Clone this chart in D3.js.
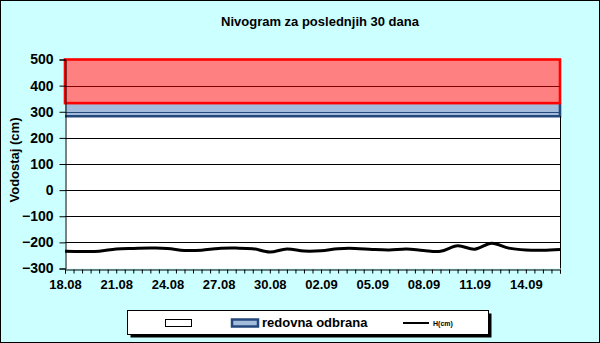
<!DOCTYPE html>
<html>
<head>
<meta charset="utf-8">
<script src="https://cdn.jsdelivr.net/npm/d3@7"></script>
<style>
    html, body { margin: 0; padding: 0; background: #fff; }
    svg text { font-family: Arial, 'Liberation Sans', sans-serif; font-weight: bold; }
</style>
</head>
<body>
<div id="chart"></div>
<script>
'use strict';

// first day of the series and the daily water levels in cm
let startDate = new Date(2000, 7, 18);
let levels = [-234, -235, -234, -225, -223, -222, -223, -231, -230, -223,
    -222, -224, -237, -225, -233, -232, -224, -223, -227, -229,
    -225, -231, -234, -213, -226, -203, -222, -229, -230, -227];

// flood defence bands (cm)
let redBand = [333, 500];
let blueBand = [283, 333];

let yTicks = [500, 400, 300, 200, 100, 0, -100, -200, -300];
let legendLabels = ['', 'redovna odbrana', 'H(cm)'];

let width = 600,
    height = 343;
let margin = {top: 59.5, right: 40, bottom: 74.5, left: 65};

let data = levels.map(function(v, i) {
    return {date: d3.timeDay.offset(startDate, i), value: v};
});

let svg = d3.select('#chart')
    .append('svg')
    .attr('width', width)
    .attr('height', height);

// background of the whole chart
svg.append('rect')
    .attr('x', 0.5)
    .attr('y', 0.5)
    .attr('width', width - 1)
    .attr('height', height - 1)
    .attr('fill', '#ccffff')
    .attr('stroke', '#000');

let x = d3.scaleTime()
    .domain([startDate, d3.timeDay.offset(startDate, levels.length - 1)])
    .range([margin.left, width - margin.right]);

let y = d3.scaleLinear()
    .domain([-300, 500])
    .range([height - margin.bottom, margin.top]);

// plot area
svg.append('rect')
    .attr('x', x.range()[0])
    .attr('y', y(500))
    .attr('width', x.range()[1] - x.range()[0])
    .attr('height', y(-300) - y(500))
    .attr('fill', '#fff');

// blue band - regular defence
svg.append('rect')
    .attr('x', x.range()[0])
    .attr('y', y(blueBand[1]))
    .attr('width', x.range()[1] - x.range()[0])
    .attr('height', y(blueBand[0]) - y(blueBand[1]))
    .attr('fill', '#a4bcdc');
svg.append('path')
    .attr('fill', 'none')
    .attr('stroke', '#24487c')
    .attr('stroke-width', 2.6)
    .attr('d', 'M' + x.range()[0] + ',' + y(blueBand[0]) +
        'H' + x.range()[1] + 'V' + y(blueBand[1]));

// red band
svg.append('rect')
    .attr('x', x.range()[0])
    .attr('y', y(redBand[1]))
    .attr('width', x.range()[1] - x.range()[0])
    .attr('height', y(redBand[0]) - y(redBand[1]))
    .attr('fill', '#ff8080')
    .attr('stroke', '#ff0000')
    .attr('stroke-width', 2.6);

// horizontal grid, darker where it crosses a band
svg.append('g')
    .selectAll('line')
    .data(yTicks.filter(function(d) {
        return d > -300 && d < 500;
    }))
    .enter().append('line')
    .attr('x1', x.range()[0])
    .attr('x2', x.range()[1])
    .attr('y1', function(d) {
        return Math.round(y(d)) + 0.5;
    })
    .attr('y2', function(d) {
        return Math.round(y(d)) + 0.5;
    })
    .attr('stroke', function(d) {
        if (d > redBand[0]) return '#800000';
        if (d > blueBand[0]) return '#24487c';
        return '#000';
    });

// right border of the plot
svg.append('line')
    .attr('x1', x.range()[1] + 0.5)
    .attr('x2', x.range()[1] + 0.5)
    .attr('y1', y(blueBand[0]))
    .attr('y2', y(-300))
    .attr('stroke', '#000');

// water level line
let line = d3.line()
    .x(function(d) {
        return x(d.date);
    })
    .y(function(d) {
        return y(d.value);
    })
    .curve(d3.curveCatmullRom.alpha(0.5));

svg.append('path')
    .datum(data)
    .attr('fill', 'none')
    .attr('stroke', '#000')
    .attr('stroke-width', 3)
    .attr('d', line);

// y axis
let yAxis = svg.append('g')
    .attr('transform', 'translate(' + (margin.left + 0.5) + ',0)')
    .call(d3.axisLeft(y).tickValues(yTicks).tickSize(6).tickPadding(6));
yAxis.select('.domain').attr('stroke', '#000');
yAxis.selectAll('.tick line').attr('stroke', '#000');
yAxis.selectAll('text')
    .attr('fill', '#000')
    .style('font-size', '14px');

// x axis: tick every half day, label every third day
let xAxis = svg.append('g')
    .attr('transform', 'translate(0,' + (Math.round(y(-300)) + 0.5) + ')')
    .call(d3.axisBottom(x)
        .ticks(d3.timeHour.every(12))
        .tickSize(4)
        .tickPadding(6)
        .tickFormat(function(d) {
            let days = d3.timeDay.count(startDate, d);
            if (d.getHours() === 0 && days % 3 === 0) {
                return d3.timeFormat('%d.%m')(d);
            }
            return '';
        }));
xAxis.select('.domain').attr('stroke', '#000');
xAxis.selectAll('.tick line').attr('stroke', '#000');
xAxis.selectAll('text')
    .attr('fill', '#000')
    .style('font-size', '13px');

// titles
svg.append('text')
    .attr('x', 320)
    .attr('y', 26)
    .attr('text-anchor', 'middle')
    .style('font-size', '13px')
    .text('Nivogram za poslednjih 30 dana');

svg.append('text')
    .attr('transform', 'translate(19,' + ((y(500) + y(-300)) / 2 - 4) + ') rotate(-90)')
    .attr('text-anchor', 'middle')
    .style('font-size', '13px')
    .text('Vodostaj (cm)');

// legend
let legend = svg.append('g');
legend.append('rect')
    .attr('x', 130.5)
    .attr('y', 313.5)
    .attr('width', 361)
    .attr('height', 24)
    .attr('fill', '#000');
legend.append('rect')
    .attr('x', 127.5)
    .attr('y', 310.5)
    .attr('width', 361)
    .attr('height', 24)
    .attr('fill', '#fff')
    .attr('stroke', '#000');

legend.append('rect')
    .attr('x', 165.5)
    .attr('y', 319.5)
    .attr('width', 26)
    .attr('height', 7)
    .attr('fill', '#fff')
    .attr('stroke', '#000');

legend.append('rect')
    .attr('x', 232)
    .attr('y', 319.5)
    .attr('width', 26)
    .attr('height', 7)
    .attr('fill', '#a4bcdc')
    .attr('stroke', '#24487c')
    .attr('stroke-width', 2.5);
legend.append('text')
    .attr('x', 262)
    .attr('y', 327)
    .style('font-size', '13px')
    .text(legendLabels[1]);

legend.append('line')
    .attr('x1', 403)
    .attr('x2', 429)
    .attr('y1', 323)
    .attr('y2', 323)
    .attr('stroke', '#000')
    .attr('stroke-width', 2);
legend.append('text')
    .attr('x', 433)
    .attr('y', 325.5)
    .style('font-size', '7px')
    .text(legendLabels[2]);
</script>
</body>
</html>
